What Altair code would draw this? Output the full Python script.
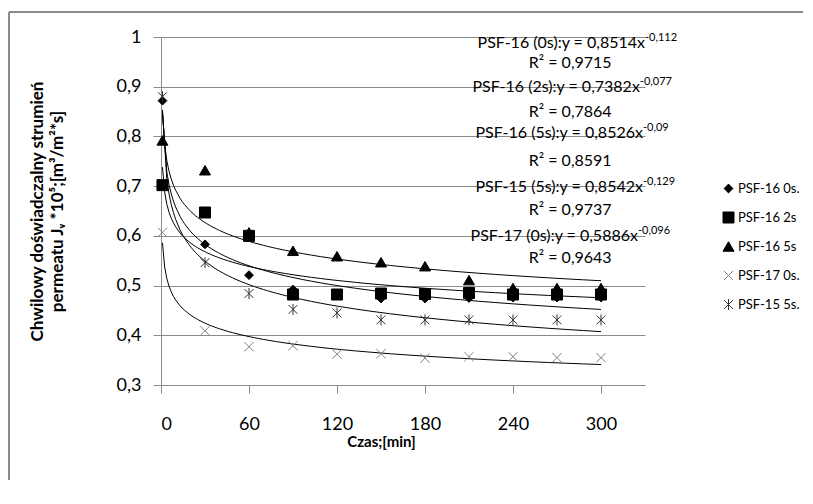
import altair as alt
import pandas as pd

# ---------------- data ----------------
times = [1, 30, 60, 90, 120, 150, 180, 210, 240, 270, 300]
series_names = ["PSF-16 0s.", "PSF-16 2s", "PSF-16 5s", "PSF-17 0s.", "PSF-15 5s."]
psf16_0s = [0.872, 0.583, 0.521, 0.492, 0.482, 0.474, 0.474, 0.475, 0.476, 0.476, 0.476]
psf16_2s = [0.702, 0.647, 0.600, 0.482, 0.482, 0.484, 0.483, 0.485, 0.482, 0.482, 0.482]
psf16_5s = [0.792, 0.732, 0.607, 0.570, 0.559, 0.547, 0.539, 0.511, 0.495, 0.495, 0.495]
psf17_0s = [0.607, 0.409, 0.377, 0.379, 0.362, 0.363, 0.354, 0.357, 0.357, 0.355, 0.355]
psf15_5s = [0.880, 0.546, 0.484, 0.452, 0.445, 0.431, 0.431, 0.431, 0.431, 0.431, 0.431]
series_values = [psf16_0s, psf16_2s, psf16_5s, psf17_0s, psf15_5s]

x_ticks = [0, 60, 120, 180, 240, 300]
y_ticks = [0.3, 0.4, 0.5, 0.6, 0.7, 0.8, 0.9, 1.0]

eq_main = [
    "PSF-16 (0s):y = 0,8514x",
    "PSF-16 (2s):y = 0,7382x",
    "PSF-16 (5s):y = 0,8526x",
    "PSF-15 (5s):y = 0,8542x",
    "PSF-17 (0s):y = 0,5886x",
]
eq_exp = ["-0,112", "-0,077", "-0,09", "-0,129", "-0,096"]
eq_r2 = ["R² = 0,9715", "R² = 0,7864", "R² = 0,8591", "R² = 0,9737", "R² = 0,9643"]

# annotation anchors (in data coordinates)
eq_x_end = [330.0, 326.5, 328.6, 328.6, 325.2]
eq_y = [0.988, 0.8985, 0.806, 0.6975, 0.599]
r2_x = [279, 279, 279, 279, 279]
r2_y = [0.947, 0.850, 0.750, 0.653, 0.5545]

rows = []
for name, vals in zip(series_names, series_values):
    for t, v in zip(times, vals):
        rows.append({"series": name, "time": t, "value": v})
df = pd.DataFrame(rows)

eq_df = pd.DataFrame({"x": eq_x_end, "y": eq_y, "main": eq_main, "exp": eq_exp})
r2_df = pd.DataFrame({"x": r2_x, "y": r2_y, "text": eq_r2})

# ---------------- styles ----------------
FONT = "Lato"
GRID = "#8a8a8a"
shapes = [
    "M0,-0.8L0.8,0L0,0.8L-0.8,0Z",
    "square",
    "triangle-up",
    "M-0.85,-0.85L0.85,0.85M-0.85,0.85L0.85,-0.85",
    "M-0.8,-0.8L0.8,0.8M-0.8,0.8L0.8,-0.8M0,-1L0,1",
]
fills = ["black", "black", "black", "transparent", "transparent"]
strokes = ["black", "black", "black", "#808080", "#303030"]

xs = alt.Scale(domain=[0, 330], nice=False, zero=False)
ys = alt.Scale(domain=[0.3, 1.0], nice=False, zero=False)

x_axis = alt.Axis(
    values=x_ticks, grid=False, domainColor=GRID, tickColor=GRID, tickSize=8,
    labelFontSize=18, labelPadding=22, title="Czas;[min]", titleFontSize=15,
    titleFontWeight="bold", titleX=220, titleY=56, titleBaseline="middle",
)
y_axis = alt.Axis(
    values=y_ticks, grid=True, gridColor=GRID, domainColor=GRID, tickColor=GRID,
    tickSize=8, labelFontSize=18, labelPadding=12,
    labelExpr="datum.value == 1 ? '1' : replace(format(datum.value, '.1f'), '.', ',')",
    title=["Chwilowy doświadczalny strumień", "permeatu Jᵥ *10⁵;[m³/m²*s]"],
    titleFontSize=17, titleFontWeight="bold", titleAngle=-90, titleX=-124,
    titleY=174, titleAlign="center", titleBaseline="middle", titleLineHeight=20,
)

leg = alt.Legend(
    title=None, orient="none", legendX=561, legendY=145, labelFontSize=13,
    labelFont=FONT, rowPadding=14, symbolSize=121, labelOffset=3, padding=0,
    symbolStrokeWidth=1, labelColor="black", labelLimit=200,
)

X = alt.X("time:Q", scale=xs, axis=x_axis)
Y = alt.Y("value:Q", scale=ys, axis=y_axis)

trend = (
    alt.Chart(df)
    .transform_regression("time", "value", groupby=["series"], method="pow", extent=[1, 300])
    .mark_line(color="black", strokeWidth=1)
    .encode(x=X, y=Y, detail="series:N")
)

points = (
    alt.Chart(df)
    .mark_point(size=121, strokeWidth=1, opacity=1)
    .encode(
        x=X,
        y=Y,
        shape=alt.Shape("series:N", scale=alt.Scale(domain=series_names, range=shapes), legend=leg),
        fill=alt.Fill("series:N", scale=alt.Scale(domain=series_names, range=fills), legend=leg),
        stroke=alt.Stroke("series:N", scale=alt.Scale(domain=series_names, range=strokes), legend=leg),
    )
)

eq_main_txt = (
    alt.Chart(eq_df)
    .mark_text(align="right", baseline="middle", fontSize=16, font=FONT, color="black")
    .encode(x=alt.X("x:Q", scale=xs), y=alt.Y("y:Q", scale=ys), text="main:N")
)
eq_exp_txt = (
    alt.Chart(eq_df)
    .mark_text(align="left", baseline="middle", fontSize=11, font=FONT, color="black", dy=-5)
    .encode(x=alt.X("x:Q", scale=xs), y=alt.Y("y:Q", scale=ys), text="exp:N")
)
r2_txt = (
    alt.Chart(r2_df)
    .mark_text(align="center", baseline="middle", fontSize=16, font=FONT, color="black")
    .encode(x=alt.X("x:Q", scale=xs), y=alt.Y("y:Q", scale=ys), text="text:N")
)

frame_left = alt.Chart(pd.DataFrame({"a": [0]})).mark_rule(color="#8a8a8a", strokeWidth=2).encode(
    x=alt.value(-152), y=alt.value(-25), y2=alt.value(470)
)
frame_top = alt.Chart(pd.DataFrame({"a": [0]})).mark_rule(color="#8a8a8a", strokeWidth=2).encode(
    x=alt.value(-152), x2=alt.value(645), y=alt.value(-25)
)

chart = (
    alt.layer(frame_left, frame_top, trend, points, eq_main_txt, eq_exp_txt, r2_txt)
    .properties(
        width=484, height=348,
        autosize=alt.AutoSizeParams(type="none"),
        padding={"left": 153, "top": 29, "right": 158, "bottom": 95},
        background="white",
    )
    .configure_view(stroke=None)
    .configure_axis(labelFont=FONT, titleFont=FONT, labelColor="black", titleColor="black")
)

chart.save("out.html", embed_options={"renderer": "svg", "actions": False})
